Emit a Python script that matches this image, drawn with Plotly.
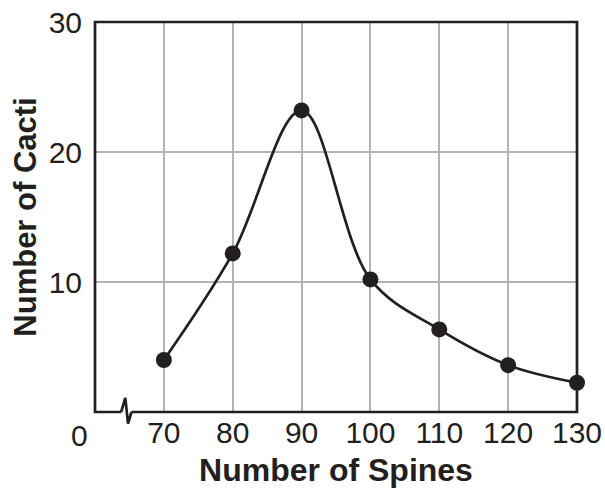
import plotly.graph_objects as go

spines = [70, 80, 90, 100, 110, 120, 130]
cacti = [4.0, 12.2, 23.2, 10.2, 6.35, 3.6, 2.25]
x_ticks = [70, 80, 90, 100, 110, 120, 130]
y_ticks = [10, 20, 30]

INK = "#231f20"
GRID = "#b3b3b3"
FONT = "Liberation Sans, Arial, sans-serif"

fig = go.Figure()
fig.add_trace(go.Scatter(
    x=spines, y=cacti, mode="lines+markers",
    line=dict(color=INK, width=2.7, shape="spline", smoothing=1.0),
    marker=dict(color=INK, size=16),
    cliponaxis=False, showlegend=False,
))

# frame (with axis break on the bottom edge)
x_lo, x_hi = 60, 130
def px(v):
    return (v - x_lo) / (x_hi - x_lo)

brk_l = px(63.8)
brk_r = px(65.3)
frame = (f"M {brk_l},0 L 0,0 L 0,1 L 1,1 L 1,0 L {brk_r},0")
zig = (f"M {brk_l},0 L {px(64.4)},0.036 L {px(64.8)},-0.03 L {brk_r},0")
for p in (frame, zig):
    fig.add_shape(type="path", path=p, xref="paper", yref="paper",
                  line=dict(color=INK, width=2.7), layer="above")

fig.add_annotation(text="0", xref="paper", yref="paper", x=-0.033, y=-0.059,
                   showarrow=False, xanchor="center", yanchor="middle",
                   font=dict(family=FONT, size=30, color=INK))

fig.update_layout(
    width=605, height=488,
    margin=dict(l=95, r=28, t=22, b=76),
    paper_bgcolor="white", plot_bgcolor="white",
    font=dict(family=FONT, color=INK),
)
fig.update_xaxes(
    range=[x_lo, x_hi], tickvals=x_ticks, ticktext=[str(t) for t in x_ticks],
    showgrid=True, gridcolor=GRID, gridwidth=2, zeroline=False, showline=False,
    automargin=False,
    ticks="", ticklen=0,
    tickfont=dict(family=FONT, size=30, color=INK),
    title=dict(text="<b>Number of Spines</b>", font=dict(family=FONT, size=32, color=INK), standoff=20),
)
fig.update_yaxes(
    range=[0, 30], tickvals=y_ticks, ticktext=[str(t) for t in y_ticks],
    showgrid=True, gridcolor=GRID, gridwidth=2, zeroline=False, showline=False,
    automargin=False,
    ticks="outside", ticklen=6, tickcolor="rgba(0,0,0,0)",
    tickfont=dict(family=FONT, size=30, color=INK),
    title=dict(text="<b>Number of Cacti</b>", font=dict(family=FONT, size=31, color=INK), standoff=2),
)

fig.write_html("out.html", config={"displayModeBar": False},
               post_script="document.body.style.margin='0';document.body.style.padding='0';")
